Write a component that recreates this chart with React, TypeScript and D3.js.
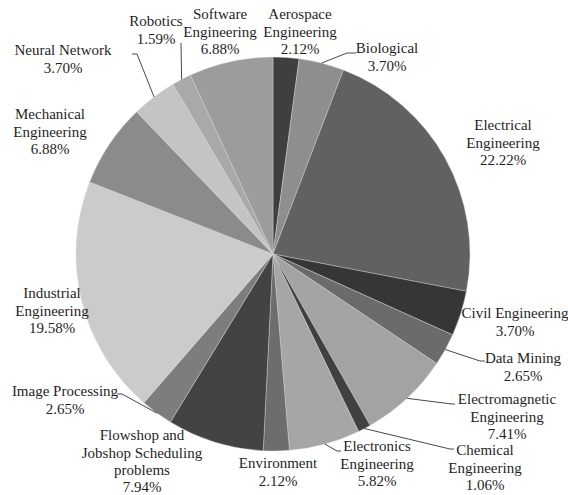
import React from "react";
import * as d3 from "d3";

const categories = [
  ["Aerospace", "Engineering"],
  ["Biological"],
  ["Electrical", "Engineering"],
  ["Civil Engineering"],
  ["Data Mining"],
  ["Electromagnetic", "Engineering"],
  ["Chemical", "Engineering"],
  ["Electronics", "Engineering"],
  ["Environment"],
  ["Flowshop and", "Jobshop Scheduling", "problems"],
  ["Image Processing"],
  ["Industrial", "Engineering"],
  ["Mechanical", "Engineering"],
  ["Neural Network"],
  ["Robotics"],
  ["Software", "Engineering"],
];

const values = [
  2.12, 3.7, 22.22, 3.7, 2.65, 7.41, 1.06, 5.82, 2.12, 7.94, 2.65, 19.58, 6.88,
  3.7, 1.59, 6.88,
];

const colors = [
  "#3f3f3f", "#8e8e8e", "#616161", "#363636", "#6b6b6b", "#a3a3a3",
  "#404040", "#a6a6a6", "#6d6d6d", "#434343", "#7d7d7d", "#cbcbcb",
  "#8b8b8b", "#c4c4c4", "#a9a9a9", "#9c9c9c",
];

// label block: centre x, first line y; leader: elbow + end (none = no leader)
const labelLayout: { x: number; y: number; leader?: [number, number][] }[] = [
  { x: 300, y: 14 },
  { x: 387, y: 48, leader: [[347, 53], [356, 53]] },
  { x: 503, y: 125 },
  { x: 515, y: 313 },
  { x: 523, y: 358, leader: [[480, 361], [485, 361]] },
  { x: 507, y: 399, leader: [[452, 404], [455, 404]] },
  { x: 485, y: 450, leader: [[450, 449], [454, 449]] },
  { x: 377, y: 446, leader: [[337, 451], [341, 451]] },
  { x: 278, y: 463 },
  { x: 142, y: 435 },
  { x: 65, y: 391, leader: [[122, 394], [117, 394]] },
  { x: 52, y: 293 },
  { x: 50, y: 114 },
  { x: 63, y: 50, leader: [[137, 54], [132, 54]] },
  { x: 156, y: 21, leader: [[181, 43], [181, 43]] },
  { x: 220, y: 14 },
];

const W = 568;
const H = 495;
const cx = 273;
const cy = 254;
const R = 197;
const lineH = 17.3;

export default function App() {
  const pie = d3.pie<number>().sort(null).value((d) => d);
  const arcs = pie(values);
  const arc = d3.arc<d3.PieArcDatum<number>>().innerRadius(0).outerRadius(R);

  return (
    <svg
      width={W}
      height={H}
      style={{ position: "absolute", left: 0, top: 0, background: "#fff" }}
    >
      <g transform={`translate(${cx},${cy})`}>
        {arcs.map((a, i) => (
          <path
            key={i}
            d={arc(a) || ""}
            fill={colors[i]}
            stroke="#d8d8d8"
            strokeWidth={0.4}
          />
        ))}
      </g>
      {arcs.map((a, i) => {
        const L = labelLayout[i];
        if (!L.leader) return null;
        const mid = (a.startAngle + a.endAngle) / 2;
        const p0: [number, number] = [
          cx + R * Math.sin(mid),
          cy - R * Math.cos(mid),
        ];
        const pts = [p0, ...L.leader];
        return (
          <path
            key={"l" + i}
            d={d3.line()(pts) || ""}
            fill="none"
            stroke="#333"
            strokeWidth={0.9}
          />
        );
      })}
      {categories.map((lines, i) => {
        const L = labelLayout[i];
        const all = [...lines, d3.format(".2f")(values[i]) + "%"];
        return (
          <text
            key={"t" + i}
            x={L.x}
            y={L.y}
            textAnchor="middle"
            style={{ fontFamily: '"Liberation Serif", "DejaVu Serif", serif', fontSize: "15px" }}
            fill="#1f1f1f"
          >
            {all.map((s, j) => (
              <tspan key={j} x={L.x} y={L.y + j * lineH} dy="0.35em">
                {s}
              </tspan>
            ))}
          </text>
        );
      })}
    </svg>
  );
}
